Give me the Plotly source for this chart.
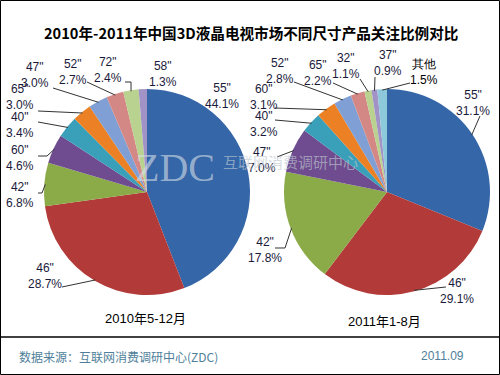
import math
import plotly.graph_objects as go

W, H = 500, 375

title = "2010年-2011年中国3D液晶电视市场不同尺寸产品关注比例对比"

# Left pie: 2010年5-12月
left_name = "2010年5-12月"
left_labels = ['55"', '46"', '42"', '60"', '40"', '65"', '47"', '52"', '72"', '58"']
left_values = [44.1, 28.7, 6.8, 4.6, 3.4, 3.0, 3.0, 2.7, 2.4, 1.3]

# Right pie: 2011年1-8月
right_name = "2011年1-8月"
right_labels = ['55"', '46"', '42"', '47"', '40"', '60"', '52"', '65"', '32"', '37"', '其他']
right_values = [31.1, 29.1, 17.8, 7.0, 3.2, 3.1, 2.8, 2.2, 1.1, 0.9, 1.5]

left_colors = ["#3466A8", "#B23A38", "#8BAA48", "#6E4C8F", "#3AA0BA",
               "#EB8124", "#809FD4", "#D48886", "#B9D28F", "#A193C6"]
right_colors = ["#3466A8", "#B23A38", "#8BAA48", "#6E4C8F", "#3AA0BA",
                "#EB8124", "#809FD4", "#D48886", "#B9D28F", "#A193C6", "#8DC9DA"]

# geometry (pixels)
L_CX, L_CY, R_CX, R_CY, RAD = 147, 192, 387, 192, 103


def px(x):
    return x / W


def py(y):
    return 1 - y / H


def domain(cx, cy):
    return dict(x=[px(cx - RAD), px(cx + RAD)], y=[py(cy + RAD), py(cy - RAD)])


fig = go.Figure()
for labels, values, colors, cx, cy in [
    (left_labels, left_values, left_colors, L_CX, L_CY),
    (right_labels, right_values, right_colors, R_CX, R_CY),
]:
    fig.add_trace(go.Pie(
        labels=labels, values=values, sort=False, direction="clockwise",
        rotation=0, textinfo="none", hoverinfo="label+percent",
        marker=dict(colors=colors, line=dict(width=0)),
        domain=domain(cx, cy), showlegend=False,
    ))


def edge_point(values, i, cx, cy, extra=0):
    total = sum(values)
    cum = sum(values[:i]) + values[i] / 2
    th = 2 * math.pi * cum / total
    r = RAD + extra
    return cx + r * math.sin(th), cy - r * math.cos(th)


# label text positions (pixel centers) and leader-line start points
left_text_pos = [(222, 96), (45, 276), (20, 195), (20, 158), (20, 125),
                 (20, 97), (35, 75), (73, 72), (108, 70), (163, 74)]
left_line_pts = [None, [(62, 287)], [(38, 193), (42, 193)], [(38, 156), (47, 156)],
                 [(38, 122)], [(38, 111)], [(53, 88)], [(87, 82)], [(125, 82), (131, 82)], None]

right_text_pos = [(473, 103), (457, 291), (265, 250), (262, 160), (264, 124),
                  (264, 97), (280, 71), (318, 73), (346, 66), (388, 63), (424, 72)]
right_line_pts = [[(480, 116)], [(446, 287)], [(275, 248), (285, 248)], [(277, 157)],
                  [(275, 120)], [(275, 108)], [(294, 82)], [(333, 83)], [(360, 79)],
                  [(375, 77)], [(410, 83)]]

shapes = []
annotations = []
LABEL_COLOR = "#1a1a3a"
LINE_COLOR = "#333333"


def ann(x, y, text, font, xanchor="center"):
    return dict(x=px(x), y=py(y), xref="paper", yref="paper", showarrow=False,
                xanchor=xanchor, yanchor="middle", text=text, font=font, align="center")


for labels, values, tpos, lpts, cx, cy in [
    (left_labels, left_values, left_text_pos, left_line_pts, L_CX, L_CY),
    (right_labels, right_values, right_text_pos, right_line_pts, R_CX, R_CY),
]:
    for i, (lab, val) in enumerate(zip(labels, values)):
        tx, ty = tpos[i]
        annotations.append(ann(
            tx, ty, f"{lab}<br>{val:.1f}%",
            dict(family="Liberation Sans, Arial", size=12,
                 color="#000000" if lab == "其他" else LABEL_COLOR)))
        if lpts[i]:
            ex, ey = edge_point(values, i, cx, cy, extra=-1)
            pts = lpts[i] + [(ex, ey)]
            path = "M " + " L ".join(f"{px(x):.5f},{py(y):.5f}" for x, y in pts)
            shapes.append(dict(type="path", path=path, xref="paper", yref="paper",
                               line=dict(color=LINE_COLOR, width=1)))

# titles / captions
annotations += [
    ann(251, 33, f"<b>{title}</b>",
        dict(family="Noto Sans CJK SC", size=14.6, color="#000000")),
    ann(145, 318, left_name,
        dict(family="Liberation Sans, Noto Sans CJK SC", size=13, color="#000000")),
    ann(384, 321, right_name,
        dict(family="Liberation Sans, Noto Sans CJK SC", size=13, color="#000000")),
    ann(17, 356, "数据来源：互联网消费调研中心(ZDC)",
        dict(family="Noto Sans CJK SC", size=12, color="#4f7f9a"), xanchor="left"),
    ann(466, 356, "2011.09",
        dict(family="Liberation Sans, Arial", size=12, color="#4f7f9a"), xanchor="right"),
    # watermark
    ann(175, 167, "ZDC",
        dict(family="Liberation Serif, DejaVu Serif", size=40, color="rgba(215,222,230,0.6)")),
    ann(290, 162, "互联网消费调研中心",
        dict(family="Noto Sans CJK SC", size=15, color="rgba(190,198,208,0.65)")),
]

# frame and separator
shapes += [
    dict(type="rect", xref="paper", yref="paper", x0=px(0.5), x1=px(499.5),
         y0=py(374.5), y1=py(0.5), line=dict(color="#000000", width=1)),
    dict(type="line", xref="paper", yref="paper", x0=0, x1=1, y0=py(337), y1=py(337),
         line=dict(color="#000000", width=1.5)),
]

fig.update_layout(
    width=W, height=H, margin=dict(l=0, r=0, t=0, b=0),
    paper_bgcolor="white", plot_bgcolor="white",
    shapes=shapes, annotations=annotations, showlegend=False,
)

fig.write_html("out.html", config={"displayModeBar": False},
               post_script="document.body.style.margin='0';")
